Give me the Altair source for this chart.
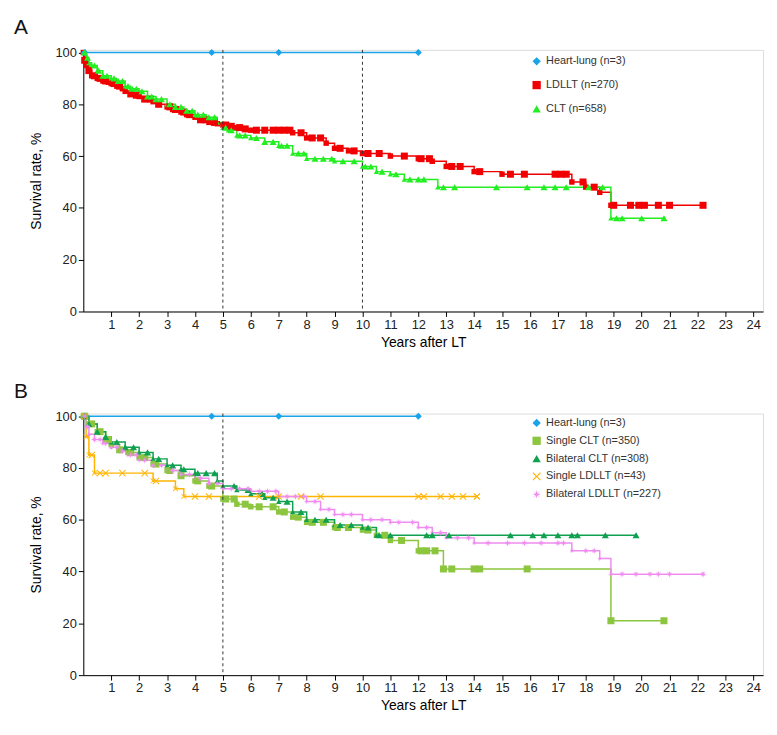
import altair as alt
import pandas as pd

# ---- Panel A ----
HL_T = [0, 12.0]
HL_S = [100, 100]
HL_C = [0.05, 4.6, 7.0, 12.0]

LD_T = [0, 0.05, 0.1, 0.2, 0.3, 0.5, 0.7, 0.9, 1.0, 1.2, 1.4, 1.5, 1.7, 1.9, 2.0, 2.2, 2.5, 2.7, 3.0, 3.2, 3.5, 3.7, 4.0, 4.2, 4.5, 4.8, 5.0, 5.3, 5.5, 5.8, 6.0, 7.5, 8.0, 8.7, 9.0, 9.5, 10.0, 11.0, 12.0, 12.5, 13.0, 14.0, 15.0, 17.5, 18.0, 18.5, 18.9, 22.2]
LD_S = [100, 97, 95, 93, 91, 90, 89, 88.5, 88, 87, 86, 85, 84, 83.5, 83, 82, 81, 80, 79, 78, 77, 76, 75, 74, 73, 72.5, 72, 71.5, 71, 70.5, 70, 69, 67, 65, 63, 62, 61, 60, 59, 58, 56, 54, 53, 50, 48, 46, 41, 41]
LD_C = [0.05, 0.2, 0.4, 0.6, 0.8, 1.1, 1.3, 1.7, 1.9, 2.2, 2.4, 2.7, 3.1, 3.3, 3.6, 3.8, 4.2, 4.4, 4.7, 5.1, 5.3, 5.6, 5.8, 6.2, 6.5, 6.8, 7.0, 7.2, 7.4, 7.8, 8.2, 8.5, 9.2, 9.7, 10.2, 10.6, 11.5, 12.1, 12.4, 13.2, 13.5, 14.2, 15.3, 15.8, 16.9, 17.1, 17.3, 17.9, 18.3, 19.0, 19.6, 19.9, 20.1, 20.6, 21.0, 22.2]

CL_T = [0, 0.1, 0.2, 0.3, 0.5, 0.7, 1.0, 1.2, 1.5, 1.7, 2.0, 2.3, 2.6, 3.0, 3.3, 3.6, 4.0, 4.4, 4.8, 5.0, 5.2, 5.5, 6.0, 6.5, 7.0, 7.5, 8.0, 9.0, 10.0, 10.5, 11.0, 11.5, 12.7, 18.9, 20.8]
CL_S = [100, 98, 96, 95, 93, 91, 90, 89, 87, 86, 85, 83, 82, 80, 79, 77.5, 76, 75, 73, 71, 70, 68, 67, 65.5, 64, 61, 59, 58, 56, 54, 53, 51, 48, 36, 36]
CL_C = [0.05, 0.15, 0.4, 0.55, 0.7, 0.85, 1.1, 1.25, 1.4, 1.6, 1.75, 1.9, 2.1, 2.3, 2.45, 2.6, 2.8, 3.1, 3.3, 3.5, 3.7, 3.9, 4.1, 4.3, 4.5, 4.7, 5.1, 5.3, 5.6, 5.8, 6.2, 6.5, 6.8, 7.1, 7.3, 7.7, 7.9, 8.3, 8.6, 8.9, 9.3, 9.7, 10.1, 10.3, 10.7, 11.2, 11.7, 12.0, 12.2, 12.9, 13.3, 14.8, 15.9, 16.5, 16.9, 17.3, 18.1, 18.6, 19.1, 19.3, 20.0, 20.8]

# ---- Panel B ----
SC_T = [0, 0.2, 0.5, 0.8, 1.0, 1.3, 1.6, 2.0, 2.5, 3.0, 3.5, 4.0, 4.5, 5.0, 5.5, 6.0, 7.0, 7.5, 8.0, 9.0, 10.0, 10.5, 11.0, 12.0, 12.9, 18.9, 20.8]
SC_S = [100, 97, 94, 91, 89, 87, 86, 84, 81.5, 79, 77, 75, 73, 68, 66, 65, 63, 61, 59, 57, 56, 54, 52, 48, 41, 21, 21]
SC_C = [0.05, 0.3, 0.6, 0.9, 1.3, 1.7, 2.2, 2.6, 3.1, 3.5, 4.1, 4.6, 5.1, 5.4, 5.8, 6.3, 6.8, 7.2, 7.7, 8.2, 8.6, 9.1, 9.5, 10.2, 10.8, 11.4, 12.1, 12.3, 12.6, 12.9, 13.2, 14.0, 14.2, 15.9, 18.9, 20.8]

BC_T = [0, 0.2, 0.5, 0.8, 1.0, 1.5, 2.0, 2.5, 3.0, 3.5, 4.0, 4.8, 5.0, 5.5, 6.0, 6.5, 7.0, 7.5, 8.0, 9.0, 10.0, 10.5, 19.8]
BC_S = [100, 97, 94, 92, 90, 88, 86, 83.5, 81, 79.5, 78, 75, 73, 71.5, 70, 68.5, 67, 63, 60, 58, 57, 54, 54]
BC_C = [0.05, 0.2, 0.5, 0.8, 1.2, 1.5, 1.8, 2.3, 2.7, 3.2, 3.6, 4.1, 4.4, 4.7, 5.4, 5.9, 6.4, 6.8, 7.3, 7.8, 8.3, 8.7, 9.2, 9.6, 10.2, 10.6, 11.0, 12.3, 12.5, 13.1, 15.3, 16.1, 16.5, 17.0, 17.5, 17.7, 18.7, 19.8]

SL_T = [0, 0.1, 0.2, 0.4, 2.5, 3.3, 3.6, 14.1]
SL_S = [100, 92, 85, 78, 75, 72, 69, 69]
SL_C = [0.05, 0.3, 0.6, 0.8, 1.4, 2.2, 2.6, 4.0, 4.5, 6.3, 7.0, 7.8, 8.5, 12.0, 12.2, 12.8, 13.2, 13.6, 14.1]

BL_T = [0, 0.1, 0.2, 0.4, 0.7, 1.0, 1.3, 1.6, 2.0, 2.5, 3.0, 3.5, 4.0, 4.5, 5.0, 6.0, 7.0, 8.0, 8.5, 9.0, 10.0, 11.0, 12.0, 12.5, 13.0, 14.0, 17.5, 18.5, 18.9, 22.2]
BL_S = [100, 96, 93, 91, 89.5, 88, 86.5, 85, 83, 81, 79, 77.5, 76, 74, 72, 71, 69, 67, 64, 62, 60, 59, 57, 55, 53, 51, 48, 45, 39, 39]
BL_C = [0.05, 0.15, 0.4, 0.6, 0.8, 1.2, 1.4, 1.7, 1.9, 2.2, 2.5, 2.8, 3.2, 3.5, 3.8, 4.2, 4.5, 4.8, 5.3, 5.6, 5.9, 6.3, 6.6, 6.9, 7.3, 7.6, 7.9, 8.3, 8.8, 9.3, 9.6, 10.3, 10.7, 11.3, 11.8, 12.3, 12.8, 13.4, 13.8, 14.5, 15.2, 15.8, 16.4, 17.0, 17.2, 18.0, 18.3, 19.3, 19.8, 20.3, 20.6, 21.0, 22.2]

X_PATH = "M-1,-0.8L-0.8,-1L0,-0.2L0.8,-1L1,-0.8L0.2,0L1,0.8L0.8,1L0,0.2L-0.8,1L-1,0.8L-0.2,0Z"
STAR_PATH = "M0,-1L0.2,-0.2L1,0L0.2,0.2L0,1L-0.2,0.2L-1,0L-0.2,-0.2Z M-0.75,-0.75L0,-0.15L0.75,-0.75L0.15,0L0.75,0.75L0,0.15L-0.75,0.75L-0.15,0Z"
X_TICKS = list(range(1, 25))


def surv_at(ts, ss, t):
    v = ss[0]
    for ti, si in zip(ts, ss):
        if ti <= t:
            v = si
    return v


def panel(series, rules, letter, legend_y):
    lines, marks = [], []
    for name, ts, ss, cs, color, shape in series:
        for t, s in zip(ts, ss):
            lines.append({"year": t, "surv": s, "series": name})
        for c in cs:
            marks.append({"year": c, "surv": surv_at(ts, ss, c), "series": name})
    names = [s[0] for s in series]
    colors = [s[4] for s in series]
    shapes = [s[5] for s in series]
    x = alt.X("year:Q", title="Years after LT",
              scale=alt.Scale(domain=[0, 24.35], nice=False),
              axis=alt.Axis(values=X_TICKS, grid=False, domainColor="black", format="d",
                            tickColor="black", labelColor="#222", labelFontSize=13,
                            titleFontSize=14, titleFontWeight="normal", labelOverlap=False,
                            labelSeparation=0, labelFlush=False))
    y = alt.Y("surv:Q", title="Survival rate, %",
              scale=alt.Scale(domain=[0, 101], nice=False),
              axis=alt.Axis(values=[0, 20, 40, 60, 80, 100], grid=False, domainColor="black",
                            tickColor="black", labelColor="#222", labelFontSize=13,
                            titleFontSize=14, titleFontWeight="normal", labelOverlap=False,
                            titlePadding=12))
    cscale = alt.Scale(domain=names, range=colors)
    leg = alt.Legend(orient="none", legendX=452, legendY=legend_y, title=None,
                     labelFontSize=11, labelColor="#333", symbolSize=70,
                     rowPadding=6 if len(names) > 3 else 12, symbolStrokeWidth=0)
    line = alt.Chart(pd.DataFrame(lines)).mark_line(interpolate="step-after", strokeWidth=1.5).encode(
        x=x, y=y, color=alt.Color("series:N", scale=cscale, sort=names, legend=leg),
        shape=alt.Shape("series:N", scale=alt.Scale(domain=names, range=shapes), sort=names, legend=None))
    pts = alt.Chart(pd.DataFrame(marks)).mark_point(filled=True, size=50, opacity=1).encode(
        x=x, y=y,
        color=alt.Color("series:N", scale=cscale, sort=names, legend=leg),
        shape=alt.Shape("series:N", scale=alt.Scale(domain=names, range=shapes), sort=names, legend=None))
    rule = alt.Chart(pd.DataFrame({"year": rules})).mark_rule(
        color="#333", strokeDash=[3, 3], strokeWidth=1).encode(x=x)
    tag = alt.Chart(pd.DataFrame({"t": [letter]})).mark_text(
        fontSize=21, align="left", baseline="middle", color="#111").encode(
        text="t:N", x=alt.value(-70), y=alt.value(-22))
    return alt.layer(line, pts, rule, tag).properties(width=686, height=264)


A = panel([
    ("Heart-lung (n=3)", HL_T, HL_S, HL_C, "#1aa3e8", "diamond"),
    ("LDLLT (n=270)", LD_T, LD_S, LD_C, "#f00000", "square"),
    ("CLT (n=658)", CL_T, CL_S, CL_C, "#22ee22", "triangle-up"),
], [5, 10], "A", 6)

B = panel([
    ("Heart-lung (n=3)", HL_T, HL_S, HL_C, "#1aa3e8", "diamond"),
    ("Single CLT (n=350)", SC_T, SC_S, SC_C, "#8cc63f", "square"),
    ("Bilateral CLT (n=308)", BC_T, BC_S, BC_C, "#0fa050", "triangle-up"),
    ("Single LDLLT (n=43)", SL_T, SL_S, SL_C, "#ffb400", X_PATH),
    ("Bilateral LDLLT (n=227)", BL_T, BL_S, BL_C, "#f08cf0", STAR_PATH),
], [5], "B", 4)

chart = alt.vconcat(A, B, spacing=30).resolve_scale(color="independent", shape="independent").configure_view(
    stroke=None).configure(font="Liberation Sans")

chart.save("out.html", embed_options={"renderer": "svg", "actions": False})
